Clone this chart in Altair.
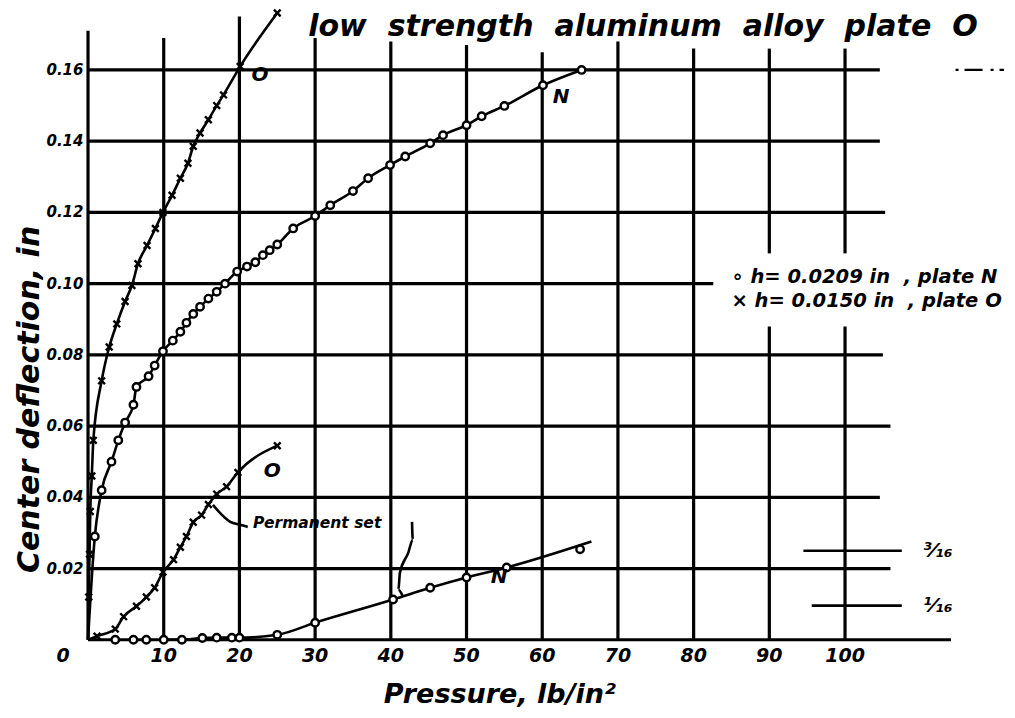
import altair as alt
import pandas as pd

# ---------------- data ----------------
# Plate N (h = 0.0209 in), loading: pressure (lb/in^2) vs center deflection (in)
n_load_p = [0, 0.9, 1.8, 3.1, 4.0, 4.9, 6.0, 6.4, 8.0, 8.8, 9.9, 11.2, 12.2, 13.0, 13.9, 14.8,
            15.9, 17.0, 18.1, 19.7, 21.0, 22.1, 23.1, 24.0, 25.0, 27.1, 30.0, 32.0, 35.0,
            37.0, 39.9, 41.9, 45.2, 46.9, 50.0, 52.0, 55.0, 60.1, 65.2]
n_load_d = [0, 0.029, 0.042, 0.050, 0.056, 0.061, 0.066, 0.071, 0.074, 0.077, 0.081, 0.084,
            0.0865, 0.089, 0.0915, 0.0935, 0.0958, 0.0977, 0.100, 0.1034, 0.1048, 0.106,
            0.108, 0.1094, 0.111, 0.1155, 0.119, 0.122, 0.126, 0.1296, 0.1333, 0.1357,
            0.1394, 0.1417, 0.1445, 0.147, 0.1499, 0.1557, 0.160]
# Plate O (h = 0.0150 in), loading
o_load_p = [0, 0.1, 0.2, 0.3, 0.5, 0.7, 1.8, 2.8, 3.8, 4.9, 5.8, 6.6, 7.8, 8.9, 9.9, 11.1,
            12.2, 13.2, 13.9, 14.8, 15.9, 17.0, 17.9, 20.1, 25.0]
o_load_d = [0, 0.012, 0.024, 0.036, 0.046, 0.056, 0.0727, 0.0822, 0.0887, 0.095, 0.0995,
            0.1056, 0.1107, 0.1155, 0.120, 0.1248, 0.1296, 0.1338, 0.1386, 0.1423, 0.146,
            0.150, 0.153, 0.161, 0.176]
# Plate O, permanent set
o_set_p = [0, 1.2, 3.6, 4.7, 6.4, 7.7, 8.8, 9.9, 11.3, 12.2, 13.0, 13.9, 15.0, 15.9, 17.0,
           18.3, 19.8, 25.0]
o_set_d = [0, 0.001, 0.003, 0.0065, 0.0094, 0.012, 0.0146, 0.019, 0.0225, 0.026, 0.029,
           0.033, 0.035, 0.038, 0.0409, 0.043, 0.047, 0.0545]
# Plate N, permanent set
n_set_p = [3.6, 6.0, 7.7, 10.0, 12.4, 15.1, 17.0, 19.0, 20.0, 25.0, 30.0, 40.3, 45.2, 50.0,
           55.3, 65.0]
n_set_d = [0, 0, 0, 0, 0, 0.0005, 0.0006, 0.0006, 0.0006, 0.0014, 0.0048, 0.0113, 0.0146,
           0.0175, 0.0203, 0.0254]
n_set_line_p = [10.0, 12.4, 15.1, 17.0, 19.0, 20.0, 25.0, 30.0, 40.3, 45.2, 50.0, 55.3, 66.5]
n_set_line_d = [0, 0, 0.0005, 0.0006, 0.0006, 0.0006, 0.0014, 0.0048, 0.0113, 0.0146,
                0.0175, 0.0203, 0.0276]

# tick labels
x_ticks = [0, 10, 20, 30, 40, 50, 60, 70, 80, 90, 100]
y_ticks = [0.02, 0.04, 0.06, 0.08, 0.10, 0.12, 0.14, 0.16]
y_tick_labels = ["0.02", "0.04", "0.06", "0.08", "0.10", "0.12", "0.14", "0.16"]

# grid geometry (data units)
vgrid_x = [0, 10, 20, 30, 40, 50, 60, 70, 80, 90, 90, 100, 100]
vgrid_y0 = [0, 0, 0, 0, 0, 0, 0, 0, 0, 0, 0.1085, 0, 0.1085]
vgrid_y1 = [0.171, 0.169, 0.175, 0.169, 0.168, 0.167, 0.165, 0.168, 0.166, 0.088, 0.166,
            0.088, 0.166]
hgrid_y = [0, 0.02, 0.04, 0.06, 0.08, 0.10, 0.12, 0.14, 0.16]
hgrid_x1 = [114, 106, 104.6, 106, 105, 82.6, 105.3, 104.6, 104.6]

# annotation leaders
lead1_p = [16.5, 17.4, 18.8, 20.1, 21.1]
lead1_d = [0.0379, 0.0357, 0.0331, 0.0323, 0.0317]
lead2_p = [42.8, 42.9, 42.3, 41.2, 41.0, 41.6]
lead2_d = [0.0331, 0.0281, 0.0244, 0.0188, 0.0140, 0.0121]

# right-side short marks
frac_y = [0.025, 0.0096]
frac_x0 = [94.5, 95.6]
frac_x1 = [107.5, 107.5]
frac_labels = ["³⁄₁₆", "¹⁄₁₆"]

# ---------------- scales ----------------
XD = [-10.57, 121.0]
YD = [-0.02, 0.1774]
W = 996
H = 703
xs = alt.Scale(domain=XD, nice=False, zero=False)
ys = alt.Scale(domain=YD, nice=False, zero=False)
FONT = "DejaVu Sans"
SP = "\u00a0"


def X(f="x"):
    return alt.X(f, type="quantitative", scale=xs, axis=None)


def Y(f="y"):
    return alt.Y(f, type="quantitative", scale=ys, axis=None)


# ---------------- layers ----------------
vg = pd.DataFrame({"x": vgrid_x, "y": vgrid_y0, "y2": vgrid_y1})
vgrid = alt.Chart(vg).mark_rule(color="black", strokeWidth=3.2).encode(
    x=X(), y=Y(), y2="y2")

hg = pd.DataFrame({"y": hgrid_y, "x": [0] * len(hgrid_y), "x2": hgrid_x1})
hgrid = alt.Chart(hg).mark_rule(color="black", strokeWidth=3.2).encode(
    y=Y(), x=X(), x2="x2")

rows = []
for name, ps, ds in [("nload", n_load_p, n_load_d), ("oload", o_load_p, o_load_d),
                     ("oset", o_set_p, o_set_d), ("nset", n_set_line_p, n_set_line_d),
                     ("lead1", lead1_p, lead1_d), ("lead2", lead2_p, lead2_d)]:
    for i, (p, d) in enumerate(zip(ps, ds)):
        rows.append({"s": name, "i": i, "x": p, "y": d})
curves_df = pd.DataFrame(rows)
curves = alt.Chart(curves_df).mark_line(color="black", strokeWidth=2.6, clip=False,
                                        interpolate="monotone").encode(
    x=X(), y=Y(), detail="s:N", order="i:Q")

circ = pd.DataFrame({"x": n_load_p[1:] + n_set_p, "y": n_load_d[1:] + n_set_d})
circles = alt.Chart(circ).mark_point(shape="circle", filled=True, fill="white",
                                     stroke="black", strokeWidth=2.4, size=55,
                                     opacity=1).encode(x=X(), y=Y())

crs = pd.DataFrame({"x": o_load_p[1:] + o_set_p[1:], "y": o_load_d[1:] + o_set_d[1:]})
crosses = alt.Chart(crs).mark_point(shape="M -1 -1 L 1 1 M 1 -1 L -1 1", filled=False,
                                    stroke="black", strokeWidth=2.4, size=45,
                                    opacity=1).encode(x=X(), y=Y())

xt = pd.DataFrame({"x": [-3.3] + x_ticks[1:], "y": [-0.0045] * len(x_ticks),
                   "t": [str(v) for v in x_ticks]})
xlabels = alt.Chart(xt).mark_text(font=FONT, fontSize=19, fontStyle="italic",
                                  fontWeight="bold", color="black").encode(
    x=X(), y=Y(), text="t:N")

yt = pd.DataFrame({"x": [-0.6] * len(y_ticks), "y": y_ticks, "t": y_tick_labels})
ylabels = alt.Chart(yt).mark_text(font=FONT, fontSize=15, fontStyle="italic",
                                  fontWeight="bold", align="right", color="black").encode(
    x=X(), y=Y(), text="t:N")

fr = pd.DataFrame({"y": frac_y, "x": frac_x0, "x2": frac_x1, "t": frac_labels,
                   "tx": [110.3, 110.3]})
frac_rules = alt.Chart(fr).mark_rule(color="black", strokeWidth=2.6).encode(
    y=Y(), x=X(), x2="x2")
frac_text = alt.Chart(fr).mark_text(font=FONT, fontSize=20, fontWeight="bold",
                                    fontStyle="italic", align="left", color="black").encode(
    x=X("tx"), y=Y(), text="t:N")

dash_df = pd.DataFrame({"y": [0.16], "x": [114.6], "x2": [121.5]})
dash = alt.Chart(dash_df).mark_rule(color="black", strokeWidth=2.2,
                                    strokeDash=[3, 6, 18, 8]).encode(
    y=Y(), x=X(), x2="x2")

title_txt = (SP * 2).join(["low", "strength", "aluminum", "alloy", "plate", "O"])
leg1 = "∘" + SP + "h=" + SP + "0.0209" + SP + "in" + SP * 2 + "," + SP + "plate" + SP + "N"
leg2 = "×" + SP + "h=" + SP + "0.0150" + SP + "in" + SP * 2 + "," + SP + "plate" + SP + "O"

labels_df = pd.DataFrame({
    "x": [21.6, 61.4, 23.2, 53.2, 21.8, 85.0, 85.0, 73.3, 54.4, -7.6],
    "y": [0.1585, 0.1525, 0.0475, 0.0175, 0.0328, 0.1018, 0.0950, 0.1722, -0.0155, 0.0675],
    "t": ["O", "N", "O", "N", "Permanent" + SP + "set", leg1, leg2, title_txt,
          "Pressure,  lb/in²", "Center  deflection,  in"],
    "size": [20, 20, 20, 20, 15.5, 19.5, 19.5, 30, 27, 30],
    "angle": [0, 0, 0, 0, 0, 0, 0, 0, 0, 270],
    "align": ["left", "left", "left", "left", "left", "left", "left", "center", "center",
              "center"],
})
texts = []
for al in ["left", "center"]:
    sub = labels_df[labels_df["align"] == al]
    texts.append(alt.Chart(sub).mark_text(font=FONT, fontStyle="italic", fontWeight="bold",
                                          align=al, baseline="middle",
                                          color="black").encode(
        x=X(), y=Y(), text="t:N",
        size=alt.Size("size:Q", scale=None, legend=None),
        angle=alt.Angle("angle:Q", scale=None)))

chart = alt.layer(vgrid, hgrid, dash, frac_rules, curves, circles, crosses, xlabels,
                  ylabels, frac_text, *texts).properties(
    width=W, height=H, autosize=alt.AutoSizeParams(type="none"),
    padding={"left": 0, "top": 0, "right": 0, "bottom": 0},
    background="white",
).configure_view(stroke=None)

chart.save("out.html", embed_options={"renderer": "svg", "actions": False})
